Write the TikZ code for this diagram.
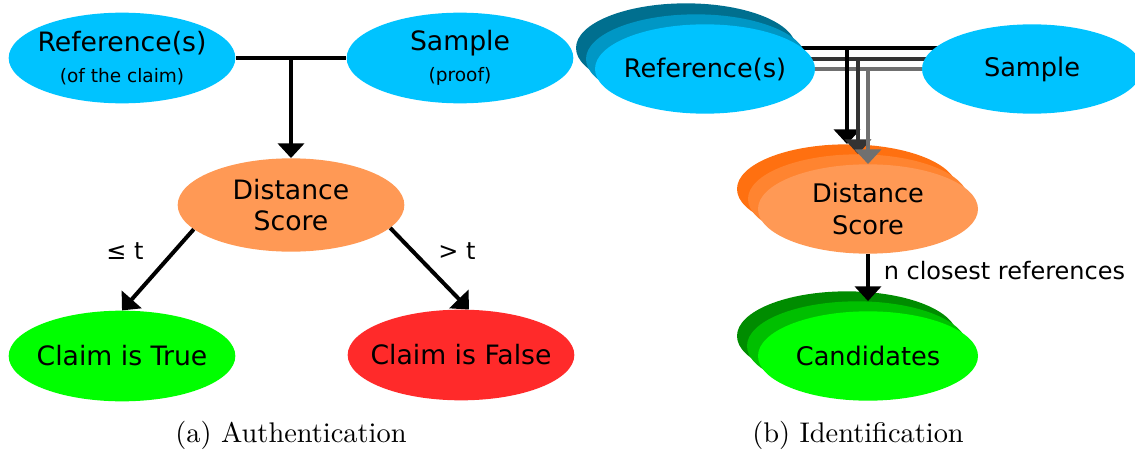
\documentclass[tikz,border=0pt]{standalone}
\usepackage{fontspec}
\newfontfamily\dejavu{DejaVu Sans}
\newfontfamily\capfont{lmroman10-regular.otf}
\usetikzlibrary{shapes.geometric,arrows.meta,backgrounds}
\definecolor{skyblue}{RGB}{0,195,255}
\definecolor{skybluemid}{RGB}{0,151,197}
\definecolor{skybluedark}{RGB}{0,111,143}
\definecolor{peach}{RGB}{255,153,85}
\definecolor{peachmid}{RGB}{255,132,48}
\definecolor{peachdark}{RGB}{255,112,16}
\definecolor{lime}{RGB}{0,255,0}
\definecolor{limemid}{RGB}{0,191,0}
\definecolor{limedark}{RGB}{0,140,0}
\definecolor{scarlet}{RGB}{255,42,42}
\definecolor{wiredark}{RGB}{51,51,51}
\definecolor{wiregray}{RGB}{112,112,112}
\begin{document}
\begin{tikzpicture}[x=0.75pt,y=-0.75pt,
  blob/.style={ellipse,inner ysep=0pt,inner xsep=-12pt,minimum width=170pt,minimum height=68pt,
    align=center,font=\dejavu\fontsize{20}{23.5}\selectfont},
  stack/.style={blob,minimum width=165pt,minimum height=67pt,
    font=\dejavu\fontsize{19.2}{23.5}\selectfont},
  wire/.style={line width=3pt},
  arr/.style={wire,-{Triangle[length=11pt,width=19.5pt]}},
  lbl/.style={font=\dejavu\fontsize{18}{22}\selectfont},
  subcap/.style={font=\capfont\fontsize{21.3}{25}\selectfont}]
\useasboundingbox (0,0) rectangle (1135,453);
\newcommand{\smalltxt}{\fontsize{13.9}{16}\selectfont}
%%% (a) authentication
\node[blob,fill=skyblue] (ref) at (122,58) {Reference(s)\\{\smalltxt (of the claim)}};
\node[blob,fill=skyblue] (sample) at (460,58) {Sample\\{\smalltxt (proof)}};
\node[blob,fill=peach,minimum height=70pt] (dist) at (291,205) {Distance\\Score};
\node[blob,fill=lime] (ctrue) at (122,356) {Claim is True};
\node[blob,fill=scarlet] (cfalse) at (461,355) {Claim is False};
\draw[wire] (ref.east) -- (sample.west);
\draw[arr] (dist.north |- ref.east) -- (dist.north);
\draw[arr] (dist.194) -- (ctrue.north);
\draw[arr] (dist.347) -- (cfalse.80);
\node[lbl] (le) at (125,251) {≤ t};
\node[lbl] (gt) at (457,251) {> t};
\node[subcap] (capa) at (291,435) {(a) Authentication};
%%% (b) identification
\node[stack,fill=skybluedark] (refc) at (686,48) {};
\node[stack,fill=skybluemid] (refb) at (696,59) {};
\node[stack,fill=skyblue] (refs) at (705,69) {Reference(s)};
\node[stack,fill=skyblue] (smp) at (1032,69) {Sample};
\node[stack,fill=peachdark] (distc) at (847,189) {};
\node[stack,fill=peachmid] (distb) at (858,199) {};
\node[stack,fill=peach] (dists) at (868,209) {Distance\\Score};
\node[stack,fill=limedark] (candc) at (847,336) {};
\node[stack,fill=limemid] (candb) at (857,346) {};
\node[stack,fill=lime] (cands) at (868,356) {Candidates};
\begin{pgfonlayer}{background}
\draw[wire] (refc.east) -- (refc.east -| smp.center);
\draw[wire,wiredark] (refb.east) -- (refb.east -| smp.center);
\draw[wire,wiregray] (refs.east) -- (refs.east -| smp.center);
\end{pgfonlayer}
\draw[arr] (refc.east -| distc.north) -- (distc.north);
\draw[arr,wiredark] (refb.east -| distb.north) -- (distb.north);
\draw[arr,wiregray] (refs.east -| dists.north) -- (dists.north);
\draw[arr] (dists.south) -- node[lbl,right,pos=0.35,xshift=7pt] (ncl) {n closest references} (dists.south |- candb.north);
\node[subcap] (capb) at (858,435) {(b) Identification};
\end{tikzpicture}
\end{document}
